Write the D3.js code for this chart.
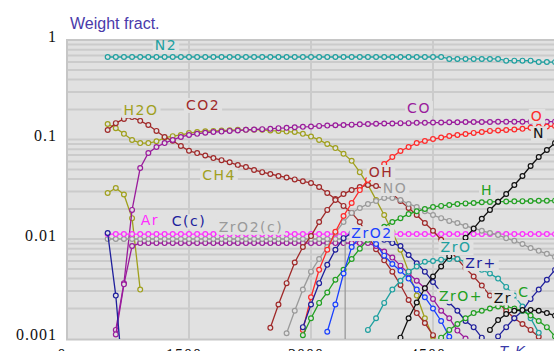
<!DOCTYPE html>
<html><head><meta charset="utf-8">
<script src="https://cdn.jsdelivr.net/npm/d3@7"></script>
<style>body{margin:0;background:#fff;overflow:hidden}svg{display:block}</style>
</head><body><svg id="c" width="554" height="351"></svg>
<script>
// ---- axis ticks ----
const yTicks = [1, 0.1, 0.01, 0.001];
const yTickLabels = ["1", "0.1", "0.01", "0.001"];
const xTicks = [0, 1500, 3000, 4500];
const xTickLabels = ["0", "1500", "3000", "4500"];
const stepK = 100; // temperature step of the tabulated values

// ---- series (start temperature, values every 100 K) ----
const N2_t0 = 500;
const N2 = [0.675,0.675,0.675,0.675,0.675,0.675,0.675,0.675,0.675,0.675,0.675,0.675,0.675,0.675,0.675,0.675,0.675,0.675,0.675,0.675,0.675,0.675,0.675,0.675,0.675,0.675,0.675,0.675,0.675,0.675,0.675,0.675,0.675,0.675,0.675,0.675,0.675,0.675,0.675,0.675,0.675,0.675,0.645,0.645,0.645,0.645,0.645,0.645,0.645,0.62,0.62,0.62,0.62,0.60,0.60,0.60];
const H2O_t0 = 500;
const H2O = [0.143,0.130,0.114,0.099,0.092,0.092,0.096,0.104,0.108,0.111,0.116,0.119,0.121,0.122,0.123,0.124,0.125,0.125,0.125,0.125,0.123,0.122,0.120,0.119,0.114,0.107,0.099,0.090,0.082,0.072,0.061,0.047,0.035,0.0247,0.0174,0.0118,0.0078,0.0047,0.0027,0.0016,0.00104];
const CH4_t0 = 500;
const CH4 = [0.029,0.0325,0.028,0.0162,0.0031];
const CO2_t0 = 500;
const CO2 = [0.1246,0.146,0.161,0.168,0.154,0.14,0.122,0.106,0.097,0.086,0.077,0.073,0.069,0.065,0.062,0.059,0.0554,0.053,0.0494,0.047,0.045,0.043,0.0415,0.0397,0.038,0.0366,0.0333,0.029,0.0252,0.0215,0.0183,0.0148,0.0107,0.0079,0.0061,0.0047,0.00345,0.00244,0.0018,0.00143,0.00108];
const CO_t0 = 600;
const CO = [0.00122,0.0036,0.0196,0.0517,0.0731,0.084,0.092,0.099,0.106,0.111,0.114,0.117,0.119,0.120,0.122,0.123,0.125,0.126,0.127,0.128,0.130,0.131,0.133,0.134,0.135,0.137,0.138,0.139,0.140,0.141,0.142,0.143,0.144,0.145,0.145,0.146,0.146,0.147,0.147,0.148,0.148,0.149,0.149,0.150,0.150,0.150,0.150,0.151,0.151,0.151,0.151,0.151,0.151,0.151,0.151];
const Ar_t0 = 500;
const Ar = [0.0112,0.0112,0.0112,0.0112,0.0112,0.0112,0.0112,0.0112,0.0112,0.0112,0.0112,0.0112,0.0112,0.0112,0.0112,0.0112,0.0112,0.0112,0.0112,0.0112,0.0112,0.0112,0.0112,0.0112,0.0112,0.0112,0.0112,0.0112,0.0112,0.0112,0.0112,0.0112,0.0112,0.0112,0.0112,0.0112,0.0112,0.0112,0.0112,0.0112,0.0112,0.0112,0.0112,0.0112,0.0112,0.0112,0.0112,0.0112,0.0112,0.0112,0.0112,0.0112,0.0112,0.0112,0.0112,0.0112];
const Cc_t0 = 500;
const Cc = [0.0115,0.0027,0.0003];
const ZrO2c_t0 = 500;
const ZrO2c = [0.0100,0.0100,0.0100,0.0100,0.0100,0.0100,0.0100,0.0100,0.0100,0.0100,0.0100,0.0100,0.0100,0.0100,0.0100,0.0100,0.0100,0.0100,0.0100,0.0100,0.0100,0.0100,0.0100,0.0100,0.0100,0.0100,0.0100,0.0100,0.0100,0.0100];
const ZrO2c_endT = 3420;     // condensed phase vanishes here
const ZrO2c_endV = 0.0001;
const ZrO2l_t0 = 600;
const ZrO2l = [0.0011,0.0035,0.0085,0.0091,0.0091,0.0091,0.0091,0.0091,0.0091,0.0091,0.0091,0.0091,0.0091,0.0091,0.0091,0.0091,0.0091,0.0091,0.0091,0.0091,0.0091,0.0091,0.0091,0.0091,0.0091,0.0091,0.0091,0.0091,0.0091,0.0091,0.0091,0.0091,0.0085,0.0075,0.0065,0.0054,0.0045,0.0038,0.0032,0.0025,0.0019,0.0016,0.0012,0.0010];
const OH_t0 = 2500;
const OH = [0.00128,0.0022,0.0036,0.0058,0.0083,0.0107,0.0148,0.0196,0.0247,0.0283,0.0311,0.0333,0.0349,0.0341,0.0318,0.0283,0.0241,0.0205,0.0174,0.0145,0.0121,0.0098,0.0078,0.0063,0.0051,0.0042,0.0034,0.0027,0.0023,0.0019,0.0016,0.0014,0.00122,0.00104];
const NO_t0 = 2700;
const NO = [0.00113,0.0019,0.0031,0.0047,0.0063,0.0083,0.0115,0.0148,0.0183,0.0205,0.0225,0.0241,0.0258,0.0258,0.0247,0.0225,0.021,0.019,0.0174,0.0162,0.0152,0.0145,0.0135,0.0129,0.0121,0.0115,0.011,0.0102,0.0096,0.0089,0.0081,0.0076,0.0071,0.0066];
const O_t0 = 2900;
const O = [0.00122,0.0026,0.0049,0.0078,0.0118,0.017,0.023,0.031,0.0392,0.048,0.0567,0.0667,0.0766,0.084,0.0922,0.0967,0.101,0.1046,0.1084,0.111,0.1136,0.1165,0.119,0.122,0.123,0.1246,0.126,0.128,0.131,0.134,0.135,0.137];
const N_t0 = 4100;
const N = [0.00102,0.0016,0.0023,0.0032,0.0042,0.0053,0.0067,0.0083,0.0103,0.0127,0.016,0.0196,0.0237,0.0283,0.0349,0.043,0.0542,0.0667,0.0784,0.0922];
const H_t0 = 2900;
const H = [0.00108,0.0016,0.00228,0.0029,0.0039,0.0049,0.0063,0.008,0.0098,0.0115,0.0133,0.0148,0.0162,0.0178,0.019,0.02,0.021,0.0215,0.022,0.0225,0.0228,0.023,0.0234,0.0236,0.0237,0.0238,0.0239,0.024,0.0241,0.0242,0.0242,0.0243];
const ZrO2_t0 = 3200;
const ZrO2 = [0.00117,0.0022,0.0045,0.0083,0.0105,0.011,0.0089,0.0068,0.0056,0.0048,0.004,0.0031,0.0026,0.002,0.0015,0.00104];
const Zrg_t0 = 2900;
const Zrg = [0.0013,0.0022,0.0036,0.0055,0.0078,0.0102,0.0115,0.0118,0.0112,0.0105,0.0098,0.0091,0.0085,0.0069,0.0057,0.0047,0.0037,0.0029,0.0023,0.0019,0.0015,0.0013,0.00102];
const Zrp_t0 = 5300;
const Zrp = [0.00105,0.0013,0.0016,0.0019,0.0025,0.0031,0.0039,0.0049];
const ZrO_t0 = 3700;
const ZrO = [0.00122,0.0016,0.00228,0.0031,0.0038,0.0047,0.0053,0.0059,0.006,0.0062,0.0063,0.0063,0.0059,0.0053,0.0049,0.0045,0.004,0.0033,0.0027,0.0021,0.0016,0.00114];
const ZrOp_t0 = 4600;
const ZrOp = [0.00102,0.00122,0.0014,0.0016,0.0018,0.0019,0.002,0.0021,0.0021,0.002,0.0019,0.0017,0.0015,0.0013,0.00105];
const Zr_t0 = 5200;
const Zr = [0.00122,0.00153,0.00176,0.0019,0.00193,0.00193,0.0019,0.0018,0.0017];

// ---- labels placed on the plot (centre temperature, baseline value) ----
const labelText = ["N2","H2O","CO2","CO","O","N","CH4","OH","NO","H","Ar","C(c)","ZrO2(c)","ZrO2","ZrO","Zr+","ZrO+","Zr","C"];
const labelT    = [1217, 910, 1672, 4328, 5779, 5803, 1869, 3861, 4033, 5164, 1020, 1500, 2262, 3750, 4783, 5090, 4844, 5360, 5619];
const labelV    = [0.80, 0.176, 0.198, 0.185, 0.154, 0.103, 0.0394, 0.042, 0.029, 0.0277, 0.0139, 0.0134, 0.0118, 0.0102, 0.0074, 0.0051, 0.0024, 0.0023, 0.0026];

// ---- build ----
const plotL = 67, plotR = 562, plotT = 40, plotB = 339.5;
const x = d3.scaleLinear().domain([0, 6000]).range([67, 555]);
const y = d3.scaleLog().domain([0.001, 1]).range([338.5, 40]);
const bg = "#e1e1e1", gridC = "#cbcbcb";

const svg = d3.select("#c");
svg.append("rect").attr("x",plotL).attr("y",plotT).attr("width",plotR-plotL).attr("height",plotB-plotT)
  .attr("fill",bg).attr("stroke","#c6c6c6").attr("stroke-width",2);

const grid = svg.append("g");
const hv = [];
[0.1, 0.01, 0.001].forEach(d => { for (let k = 1; k <= 9; k++) hv.push(+(d * k).toPrecision(3)); });
grid.selectAll("line.h").data(hv.filter(v => v > 0.001 && v < 1)).join("line")
  .attr("x1", plotL+1).attr("x2", plotR).attr("y1", d => y(d)).attr("y2", d => y(d))
  .attr("stroke", gridC).attr("stroke-width", 2);
grid.selectAll("line.v").data([1500, 3000, 4500, 6000]).join("line")
  .attr("x1", d => x(d)).attr("x2", d => x(d)).attr("y1", plotT+1).attr("y2", plotB)
  .attr("stroke", gridC).attr("stroke-width", 2);

svg.append("defs").append("clipPath").attr("id","clip").append("rect")
  .attr("x",plotL+1).attr("y",plotT+1).attr("width",plotR-plotL).attr("height",plotB-plotT-1.5);

const series = [
  {v:N2, t0:N2_t0, c:"#20a0a0"},
  {v:H2O, t0:H2O_t0, c:"#a0a01e"},
  {v:CH4, t0:CH4_t0, c:"#a0a01e"},
  {v:CO2, t0:CO2_t0, c:"#a02a2a"},
  {v:CO, t0:CO_t0, c:"#9a1c9c"},
  {v:ZrO2l, t0:ZrO2l_t0, c:"#9a1c9c"},
  {v:ZrO2c, t0:ZrO2c_t0, c:"#9a9a9a", endT:ZrO2c_endT, endV:ZrO2c_endV},
  {v:Ar, t0:Ar_t0, c:"#ff2cff"},
  {v:Cc, t0:Cc_t0, c:"#20209c"},
  {v:OH, t0:OH_t0, c:"#a02a2a"},
  {v:NO, t0:NO_t0, c:"#9a9a9a"},
  {v:O, t0:O_t0, c:"#ff2a2a"},
  {v:H, t0:H_t0, c:"#22a022"},
  {v:Zrg, t0:Zrg_t0, c:"#20209c"},
  {v:ZrO2, t0:ZrO2_t0, c:"#1a40ff"},
  {v:ZrO, t0:ZrO_t0, c:"#20a0a0"},
  {v:N, t0:N_t0, c:"#111111"},
  {v:Zrp, t0:Zrp_t0, c:"#20209c"},
  {v:ZrOp, t0:ZrOp_t0, c:"#22a022"},
  {v:Zr, t0:Zr_t0, c:"#111111"},
];

const gData = svg.append("g").attr("clip-path","url(#clip)");
const line = d3.line().x(d => x(d[0])).y(d => y(d[1]));
series.forEach(s => {
  const pts = s.v.map((v, i) => [s.t0 + i * stepK, v]);
  const lp = s.endT ? pts.concat([[s.endT, pts[pts.length-1][1]], [s.endT, s.endV]]) : pts;
  gData.append("path").attr("d", line(lp)).attr("fill","none").attr("stroke", s.c).attr("stroke-width", 1.3);
  gData.selectAll(null).data(pts).join("circle")
    .attr("cx", d => x(d[0])).attr("cy", d => y(d[1])).attr("r", 2.4)
    .attr("fill", bg).attr("stroke", s.c).attr("stroke-width", 1.2);
});

const labelColor = ["#20a0a0","#a0a01e","#a02a2a","#9a1c9c","#ff2a2a","#111111","#a0a01e","#a02a2a","#9a9a9a","#22a022","#ff2cff","#20209c","#9a9a9a","#1a40ff","#20a0a0","#20209c","#22a022","#111111","#22a022"];
const gLab = svg.append("g");
labelText.forEach((t, i) => {
  const g = gLab.append("g");
  const tx = g.append("text").attr("x", x(labelT[i])).attr("y", y(labelV[i]))
    .attr("text-anchor","middle").attr("font-family","DejaVu Sans").attr("font-size",14)
    .attr("letter-spacing",1.5).attr("fill", labelColor[i]).text(t);
  const b = tx.node().getBBox();
  g.insert("rect","text").attr("x", b.x-2).attr("y", Math.max(b.y+1, plotT+2)).attr("width", b.width+4)
    .attr("height", b.y+b.height - Math.max(b.y+1, plotT+2)).attr("fill", bg);
});

// axes text
svg.selectAll("text.yt").data(yTicks).join("text")
  .attr("x", 57).attr("y", d => y(d) + 1.5).attr("text-anchor","end")
  .attr("font-family","Liberation Serif").attr("font-size",16).attr("letter-spacing",1)
  .attr("fill","#111").text((d,i) => yTickLabels[i]);
svg.selectAll("text.xt").data(xTicks).join("text")
  .attr("x", d => x(d) - 5).attr("y", 360).attr("text-anchor","middle")
  .attr("font-family","Liberation Serif").attr("font-size",16).attr("letter-spacing",1)
  .attr("fill","#111").text((d,i) => xTickLabels[i]);
svg.append("text").attr("x",70).attr("y",28.5).attr("font-family","Liberation Sans").attr("font-size",16)
  .attr("fill","#4a3aaa").text("Weight fract.");
svg.append("text").attr("x",499).attr("y",356).attr("font-family","Liberation Sans").attr("font-size",15)
  .attr("font-style","italic").attr("fill","#3a3aa8").text("T, K");
</script></body></html>
